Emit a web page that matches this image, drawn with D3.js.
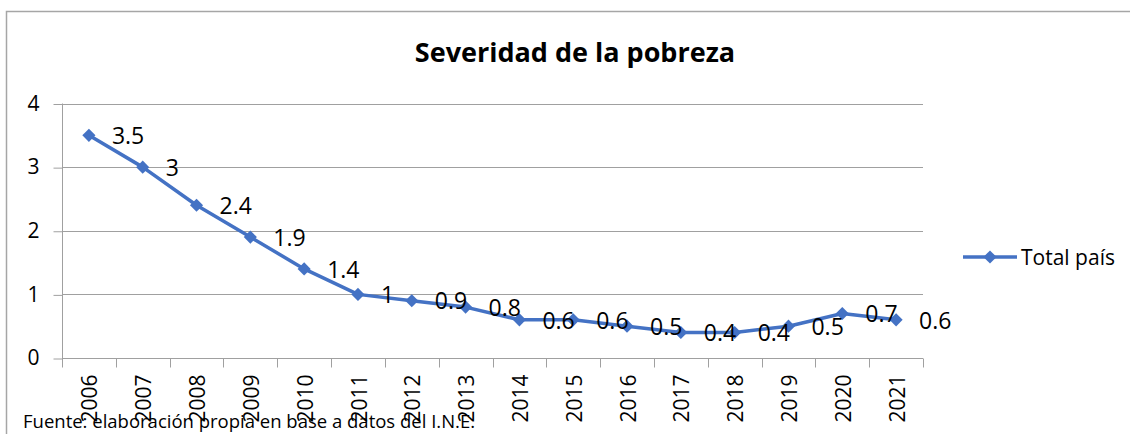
<!DOCTYPE html>
<html>
<head>
<meta charset="utf-8">
<script src="https://cdn.jsdelivr.net/npm/d3@7"></script>
<style>
  html, body { margin: 0; padding: 0; background: #fff; }
  svg { display: block; }
  text { font-family: "Open Sans", sans-serif; fill: #000; }
</style>
</head>
<body>
<svg id="chart" width="1130" height="434"></svg>
<script>
const years = ["2006","2007","2008","2009","2010","2011","2012","2013","2014","2015","2016","2017","2018","2019","2020","2021"];
const totalPais = [3.5, 3, 2.4, 1.9, 1.4, 1, 0.9, 0.8, 0.6, 0.6, 0.5, 0.4, 0.4, 0.5, 0.7, 0.6];
const yTicks = [0, 1, 2, 3, 4];
const titleText = "Severidad de la pobreza";
const seriesName = "Total país";
const sourceText = "Fuente: elaboración propia en base a datos del I.N.E.";

const FONT = "'Open Sans', sans-serif";
const svg = d3.select("#chart");
const lineColor = "#4472C4";
const gridColor = "#a0a0a0";

// frame
svg.append("rect").attr("x", 6.5).attr("y", 11.5).attr("width", 1200).attr("height", 500)
  .attr("fill", "none").attr("stroke", "#a6a6a6").attr("stroke-width", 1.5);

const x = d3.scaleBand().domain(years).range([62, 923]).padding(0);
const y = d3.scaleLinear().domain([0, 4]).range([358, 103.5]);
const cx = d => x(d) + x.bandwidth() / 2;

// gridlines
svg.append("g").selectAll("line").data(yTicks.filter(t => t > 0)).join("line")
  .attr("x1", 62).attr("x2", 923)
  .attr("y1", d => Math.round(y(d)) + 0.5).attr("y2", d => Math.round(y(d)) + 0.5)
  .attr("stroke", gridColor).attr("stroke-width", 1);

// y axis
const yAxis = svg.append("g").attr("transform", "translate(62.5,0)")
  .call(d3.axisLeft(y).tickValues(yTicks).tickFormat(d3.format("d")).tickSize(9).tickPadding(14));
yAxis.selectAll("path, line").attr("stroke", gridColor);
yAxis.select(".domain").attr("d", `M0,${y(4)}V${y(0)}`);
yAxis.selectAll("text").attr("font-size", 21).attr("font-family", FONT).attr("fill", "#000");
yAxis.selectAll(".tick line").attr("transform", "translate(0,0.5)");

// x axis
const xAxis = svg.append("g").attr("transform", `translate(0,${Math.round(y(0)) + 0.5})`)
  .call(d3.axisBottom(x).tickSize(0).tickFormat(d => d));
xAxis.select(".domain").attr("stroke", gridColor).attr("d", `M62,0H923`);
xAxis.selectAll(".tick text")
  .attr("font-size", 21).attr("font-family", FONT).attr("fill", "#000")
  .attr("text-anchor", "end")
  .attr("transform", "translate(1,16) rotate(-90)")
  .attr("x", 0).attr("y", 0).attr("dy", "0.36em");
// boundary ticks
const bounds = years.map(d => x(d)).concat([x(years[years.length - 1]) + x.bandwidth()]);
xAxis.append("g").selectAll("line").data(bounds).join("line")
  .attr("x1", d => Math.round(d) + 0.5).attr("x2", d => Math.round(d) + 0.5)
  .attr("y1", 0).attr("y2", 9).attr("stroke", gridColor);

// line
const line = d3.line().x((d, i) => cx(years[i])).y(d => y(d));
svg.append("path").datum(totalPais).attr("d", line)
  .attr("fill", "none").attr("stroke", lineColor).attr("stroke-width", 3.5).attr("stroke-linejoin", "round");

const diamond = d3.symbol().type(d3.symbolDiamond2).size(110);
svg.append("g").selectAll("path").data(totalPais).join("path")
  .attr("d", diamond)
  .attr("transform", (d, i) => `translate(${cx(years[i])},${y(d)})`)
  .attr("fill", lineColor);

// data labels
svg.append("g").selectAll("text").data(totalPais).join("text")
  .attr("x", (d, i) => cx(years[i]) + 23)
  .attr("y", d => y(d))
  .attr("dy", "0.38em")
  .attr("font-size", 23)
  .text(d => d3.format("~g")(d));

// title
svg.append("text").attr("x", 575).attr("y", 62).attr("text-anchor", "middle")
  .attr("font-size", 27).attr("font-weight", "bold").text(titleText);

// legend
const lg = svg.append("g");
lg.append("line").attr("x1", 963).attr("x2", 1017).attr("y1", 257).attr("y2", 257)
  .attr("stroke", lineColor).attr("stroke-width", 3.5);
lg.append("path").attr("d", diamond).attr("transform", "translate(990,257)").attr("fill", lineColor);
lg.append("text").attr("x", 1021).attr("y", 257).attr("dy", "0.36em").attr("font-size", 21).text(seriesName);

// source
svg.append("text").attr("x", 23).attr("y", 428).attr("font-size", 18.5).attr("fill", "#222").text(sourceText);
</script>
</body>
</html>
